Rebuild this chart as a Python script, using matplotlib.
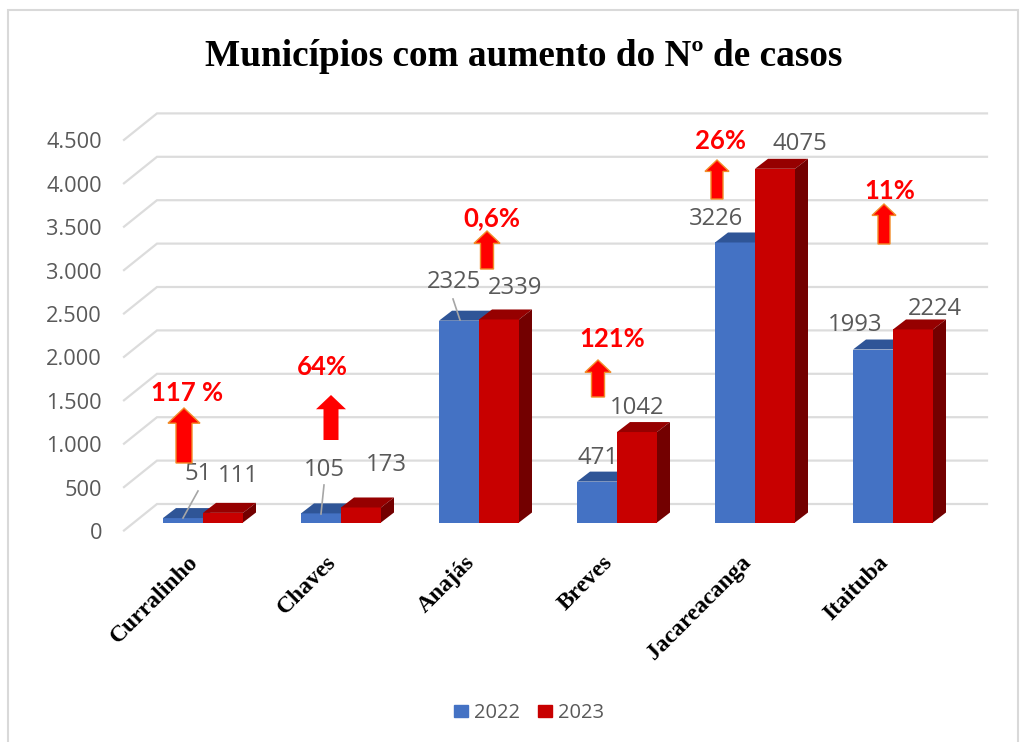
import matplotlib
matplotlib.use("Agg")
import matplotlib.pyplot as plt
from matplotlib.patches import Polygon, Patch, Rectangle

# ── Data ─────────────────────────────────────────────────────────────────────
municipios = ["Curralinho", "Chaves", "Anajás", "Breves", "Jacareacanga", "Itaituba"]
casos_2022 = [51, 105, 2325, 471, 3226, 1993]
casos_2023 = [111, 173, 2339, 1042, 4075, 2224]
aumento = ["117 %", "64%", "0,6%", "121%", "26%", "11%"]
y_ticks = [0, 500, 1000, 1500, 2000, 2500, 3000, 3500, 4000, 4500]
y_tick_labels = ["0", "500", "1.000", "1.500", "2.000", "2.500", "3.000", "3.500", "4.000", "4.500"]

# ── Page geometry: one axes over the figure, 138 px per category, 0.0868 px/case
PX_X = 138.0
PX_Y = 0.0868
X0, Y0 = 203.0, 522.5
W, H = 1028, 742

BLUE, BLUE_TOP = "#4472C4", "#2F5597"
RED, RED_TOP, RED_SIDE = "#C80000", "#960000", "#730000"
GRID = "#DCDCDC"
TXT = "#595959"


def dx(px):
    return px / PX_X

def dy(px):
    return px / PX_Y

def X(px):
    return (px - X0) / PX_X

def Y(py):
    return (Y0 - py) / PX_Y


fig = plt.figure(figsize=(W / 100, H / 100), dpi=100)
ax = fig.add_axes([0, 0, 1, 1])
ax.set_xlim(X(0), X(W))
ax.set_ylim(Y(H), Y(0))
ax.axis("off")

# chart frame
ax.add_patch(Rectangle((8 / W, -1), 1010 / W, 1 + 732 / H, transform=ax.transAxes,
                       fill=False, ec="#D9D9D9", lw=1.5, clip_on=False))

# floor + back wall gridlines
for t, lbl in zip(y_ticks, y_tick_labels):
    ax.plot([X(124), X(157), X(987)],
            [t + dy(-8), t + dy(18.5), t + dy(18.5)],
            color=GRID, lw=1.6, solid_joinstyle="miter", zorder=1)
    ax.text(X(102), t + dy(-11), lbl, ha="right", va="center", fontsize=15.7,
            color=TXT, family="Open Sans")

# 3D bars
bw = dx(40)
d_x, d_y = dx(13), dy(10)
for i, (a, b) in enumerate(zip(casos_2022, casos_2023)):
    ax.bar(i - bw / 2, a, bw, color=BLUE, zorder=3)
    ax.add_patch(Polygon([(i - bw, a), (i, a), (i + d_x, a + d_y), (i - bw + d_x, a + d_y)],
                         color=BLUE_TOP, lw=0, zorder=3))
    ax.bar(i + bw / 2, b, bw, color=RED, zorder=4)
    ax.add_patch(Polygon([(i, b), (i + bw, b), (i + bw + d_x, b + d_y), (i + d_x, b + d_y)],
                         color=RED_TOP, lw=0, zorder=4))
    ax.add_patch(Polygon([(i + bw, 0), (i + bw + d_x, d_y), (i + bw + d_x, b + d_y), (i + bw, b)],
                         color=RED_SIDE, lw=0, zorder=4))
    ax.text(X(203 + 138 * i - 15), dy(-29), municipios[i], rotation=45, rotation_mode="anchor",
            ha="right", va="top", fontsize=17, fontweight="bold",
            family="Liberation Serif", color="black", zorder=6)

# data labels, placed by hand like in the source
label_xy_2022 = [(198, 474), (324, 470), (454, 282), (598, 458), (716, 219), (855, 325)]
label_xy_2023 = [(238, 476), (386, 465), (515, 288), (637, 408), (800, 144), (935, 309)]
for vals, places in [(casos_2022, label_xy_2022), (casos_2023, label_xy_2023)]:
    for v, (px, py) in zip(vals, places):
        ax.text(X(px), Y(py), str(v), ha="center", va="center", fontsize=17.2,
                color=TXT, family="Open Sans", zorder=6)

# leader lines
for (x1, y1), (x2, y2) in [((183, 518), (198, 491)), ((321, 514), (324, 485)), ((460, 320), (453, 299))]:
    ax.plot([X(x1), X(x2)], [Y(y1), Y(y2)], color="#A6A6A6", lw=1.2, zorder=5)

# increase arrows + percentages
arrow_x = [184, 331, 487, 598, 717, 884]
arrow_tip = [408, 395, 231, 360, 160, 204]
arrow_base = [463, 440, 269, 397, 199, 244]
arrow_head = [16, 15, 13, 13, 12, 12]
arrow_edge = ["#F28C28", "none", "#F28C28", "#F28C28", "#F28C28", "#F28C28"]
pct_xy = [(187, 393), (322, 367), (492, 218), (612, 339), (720, 141), (890, 191)]
for i in range(6):
    cx, tip, base, hw = arrow_x[i], arrow_tip[i], arrow_base[i], arrow_head[i]
    sw, hh = hw / 2, hw * 0.95
    pts = [(cx, tip), (cx + hw, tip + hh), (cx + sw, tip + hh), (cx + sw, base),
           (cx - sw, base), (cx - sw, tip + hh), (cx - hw, tip + hh)]
    ax.add_patch(Polygon([(X(p), Y(q)) for p, q in pts], fc="#FF0000", ec=arrow_edge[i],
                         lw=1.0, zorder=7))
    ax.text(X(pct_xy[i][0]), Y(pct_xy[i][1]), aumento[i], ha="center", va="center",
            fontsize=18.5, fontweight="bold", color="#FF0000", family="Lato", zorder=8)

# title
ax.text(X(524), Y(57), "Municípios com aumento do Nº de casos", ha="center", va="center",
        fontsize=26.8, fontweight="bold", family="Liberation Serif", color="black")

# legend
ax.legend(handles=[Patch(color=BLUE, label="2022"), Patch(color=RED, label="2023")],
          loc="center", bbox_to_anchor=(529 / W, 1 - 713 / H), ncol=2, frameon=False,
          prop={"family": "Open Sans", "size": 14.5}, labelcolor=TXT,
          handlelength=0.7, handleheight=0.6, handletextpad=0.3, columnspacing=0.9)

fig.savefig("out.png", dpi=100)
